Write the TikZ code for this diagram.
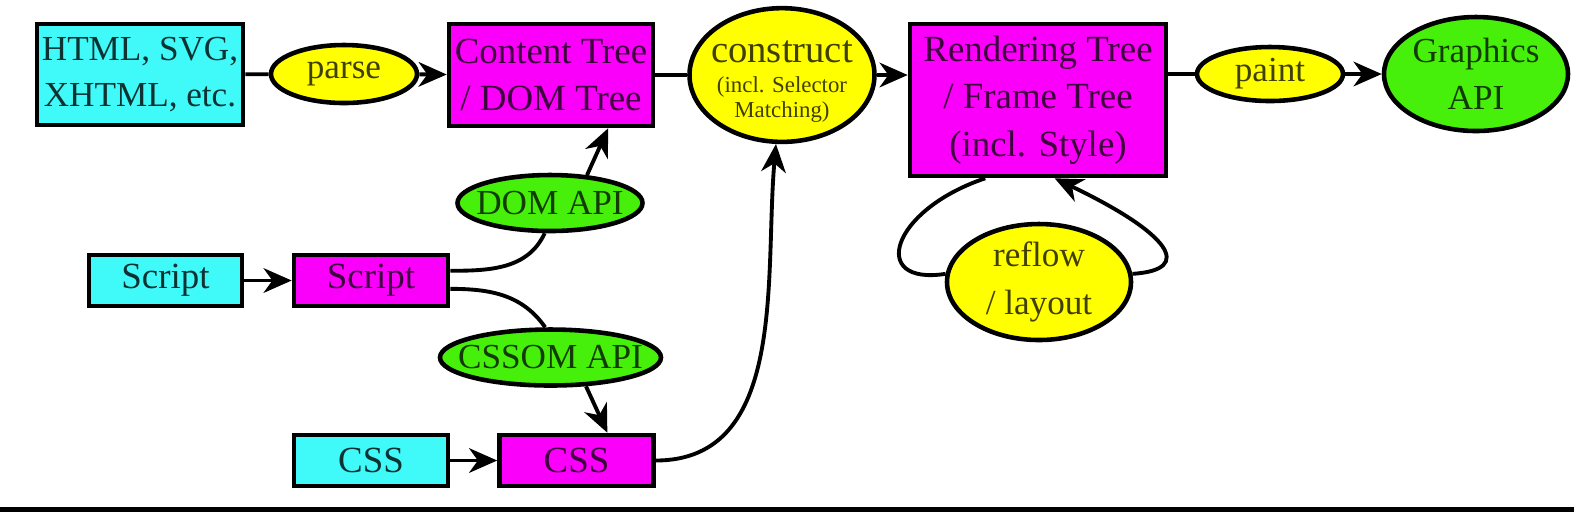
\documentclass[tikz,border=0pt]{standalone}
\usepackage{fontspec}
\setmainfont{Liberation Serif}
\usetikzlibrary{shapes.geometric, arrows.meta}

\definecolor{srccyan}{RGB}{64,250,250}
\definecolor{treemagenta}{RGB}{250,0,250}
\definecolor{stepyellow}{RGB}{255,255,0}
\definecolor{apigreen}{RGB}{70,240,10}

\begin{document}
\begin{tikzpicture}[x=0.1mm, y=-0.1mm]


        % Setup the styles for the boxes and the ovals
        \tikzset{box style/.style={rectangle, draw, line width=1.3pt,
                                   inner sep=1pt, align=center,
                                   font=\fontsize{10.5}{13.5}\selectfont},
                 oval style/.style={ellipse, draw, line width=1.3pt,
                                    inner xsep=-2.5mm, inner ysep=0pt, align=center,
                                    font=\fontsize{10}{13.5}\selectfont},
                 src box/.style={box style, fill=srccyan, text=srccyan!20!black},
                 tree box/.style={box style, fill=treemagenta, text=treemagenta!25!black},
                 step oval/.style={oval style, fill=stepyellow, text=stepyellow!25!black},
                 api oval/.style={oval style, fill=apigreen, text=apigreen!25!black},
                 flow/.style={line width=1.1pt},
                 flow arrow/.style={flow, -{Stealth[length=8pt, width=7pt, inset=2.5pt]}}}

\useasboundingbox (0,0) rectangle (1574,512);

% Add the boxes and ovals of the top row
\node[src box, font=\fontsize{10}{13}\selectfont, minimum width=20.6mm, minimum height=10.1mm] at (140,74.5) (html) {HTML, SVG,\\XHTML, etc.};
\node[step oval, minimum width=14.6mm, minimum height=5.8mm] at (344,74) (parse) {parse};
\node[tree box, minimum width=20.4mm, minimum height=10.2mm] at (551,75) (content) {Content Tree\\/ DOM Tree};
\node[step oval, minimum width=18.5mm, minimum height=11.6mm] at (782,75) (construct)
     {{\fontsize{11}{13}\selectfont\rule{0pt}{10pt}construct}\\[-5pt]{\fontsize{6.5}{7}\selectfont (incl. Selector}\\[-6.5pt]{\fontsize{6.5}{7}\selectfont Matching)}};
\node[tree box, minimum width=25.6mm, minimum height=15.2mm] at (1038,100) (render) {Rendering Tree\\/ Frame Tree\\(incl. Style)};
\node[step oval, minimum width=14.6mm, minimum height=5.4mm] at (1270,74) (paint) {paint};
\node[api oval, minimum width=18.4mm, minimum height=11.4mm] at (1476,74) (graphics) {Graphics\\API};

% Scripts and style sheets
\node[api oval, minimum width=18.5mm, minimum height=5.6mm] at (550,203) (domapi) {DOM API};
\node[src box, minimum width=15.3mm, minimum height=5.1mm] at (165.5,280.5) (scriptsrc) {Script};
\node[tree box, minimum width=15.4mm, minimum height=5.1mm] at (371,280.5) (script) {Script};
\node[api oval, minimum width=22.1mm, minimum height=5.6mm] at (550.5,357.5) (cssomapi) {CSSOM API};
\node[src box, minimum width=15.4mm, minimum height=5.1mm] at (371,460.5) (csssrc) {CSS};
\node[tree box, minimum width=15.4mm, minimum height=5.1mm] at (576.5,460.5) (css) {CSS};
\node[step oval, minimum width=18.4mm, minimum height=11.6mm] at (1039,282) (reflow) {reflow\\/ layout};

	 \draw[flow] (html) -- (parse);
	 \draw[flow arrow] (parse) -- (content);
	 \draw[flow] (content) -- (construct);
	 \draw[flow arrow] (construct.east) -- (construct.east -| render.west);
	 \draw[flow] (render.east |- paint.west) -- (paint);
	 \draw[flow arrow] (paint) -- (graphics);
	 \draw[flow arrow] (scriptsrc) -- (script);
	 \draw[flow arrow] (csssrc) -- (css);
	 \draw[flow] (script.7) to[out=0, in=-115] (domapi.-100);
	 \draw[flow arrow] (domapi.37) -- (content.-43);
	 \draw[flow] (script.-6) to[out=0, in=125] (cssomapi.100);
	 \draw[flow arrow] (cssomapi.-39) -- (css.42);
	 \draw[flow arrow] (css) to[out=0, in=-95] (construct);
	 \draw[flow] (render.-124) .. controls +(-95,32) and +(-77,12) .. (reflow.175);
	 \draw[flow arrow] (reflow.5) .. controls +(63,-4) and +(115,55) .. (render.-78);

% Bar along the bottom
\fill (0,507) rectangle (1574,512);
\end{tikzpicture}
\end{document}
